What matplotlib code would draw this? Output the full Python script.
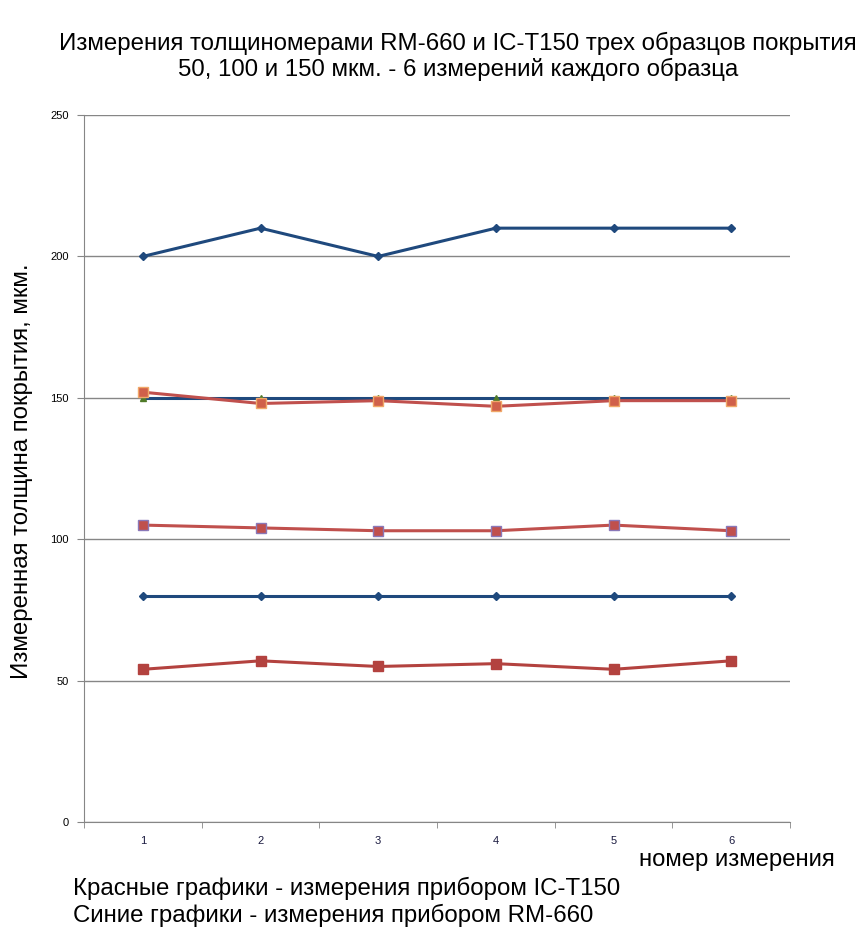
import matplotlib.pyplot as plt
from matplotlib.ticker import MultipleLocator, FixedLocator

plt.rcParams['font.family'] = ['Liberation Sans', 'DejaVu Sans']

# measurement numbers
x = [1, 2, 3, 4, 5, 6]

# blue - RM-660
rm_top = [200, 210, 200, 210, 210, 210]
rm_150 = [150, 150, 150, 150, 150, 150]
rm_80 = [80, 80, 80, 80, 80, 80]

# red - IC-T150
ic_150 = [152, 148, 149, 147, 149, 149]
ic_100 = [105, 104, 103, 103, 105, 103]
ic_50 = [54, 57, 55, 56, 54, 57]

y_ticks = [0, 50, 100, 150, 200, 250]

blue = '#1F497D'
red = '#C0504D'

fig = plt.figure(figsize=(8.67, 9.43), dpi=100)
ax = fig.add_axes([0.0969, 0.1283, 0.8143, 0.7497])

ax.plot(x, rm_top, color=blue, lw=2.2, marker='D', ms=4.5, mfc=blue, mec=blue, zorder=3)
ax.plot(x, rm_150, color=blue, lw=2.2, marker='^', ms=4, mfc='#4F7A28', mec='#4F7A28', zorder=3)
ax.plot(x, rm_80, color=blue, lw=2.2, marker='D', ms=4.5, mfc=blue, mec=blue, zorder=3)

ax.plot(x, ic_150, color=red, lw=2.2, marker='s', ms=7, mfc='#D0604A', mec='#F0A868', mew=1, zorder=4)
ax.plot(x, ic_100, color=red, lw=2.2, marker='s', ms=7, mfc=red, mec='#8A78B8', mew=1, zorder=4)
ax.plot(x, ic_50, color='#B3423F', lw=2.2, marker='s', ms=7, mfc='#B3423F', mec='#B3423F', zorder=4)

ax.set_xlim(0.5, 6.5)
ax.set_ylim(0, 250)
ax.yaxis.set_major_locator(FixedLocator(y_ticks))
ax.grid(axis='y', color='#868686', lw=1)
ax.set_axisbelow(True)

ax.set_xticks(x)
ax.set_xticklabels([str(v) for v in x], fontsize=8, color='#1a1a40')
ax.xaxis.set_minor_locator(MultipleLocator(1, offset=0.5))
ax.tick_params(axis='x', which='major', length=0, pad=10)
ax.tick_params(axis='x', which='minor', length=4, color='#868686', direction='out')
ax.tick_params(axis='y', length=5, color='#868686', labelsize=8, pad=6)

for s in ['top', 'right']:
    ax.spines[s].set_visible(False)
for s in ['left', 'bottom']:
    ax.spines[s].set_color('#868686')

fig.text(0.528, 0.9405, 'Измерения толщиномерами RM-660 и IC-T150 трех образцов покрытия\n'
         '50, 100 и 150 мкм. - 6 измерений каждого образца',
         ha='center', va='center', fontsize=17.3, linespacing=1.17)
fig.text(0.025, 0.5, 'Измеренная толщина покрытия, мкм.', rotation=90,
         ha='center', va='center', fontsize=17.3)
fig.text(0.963, 0.088, 'номер измерения', ha='right', va='center', fontsize=17.2)
fig.text(0.084, 0.058, 'Красные графики - измерения прибором IC-T150', ha='left', va='center', fontsize=17.3)
fig.text(0.084, 0.029, 'Синие графики - измерения прибором RM-660', ha='left', va='center', fontsize=17.3)

fig.savefig('out.png', dpi=100)
